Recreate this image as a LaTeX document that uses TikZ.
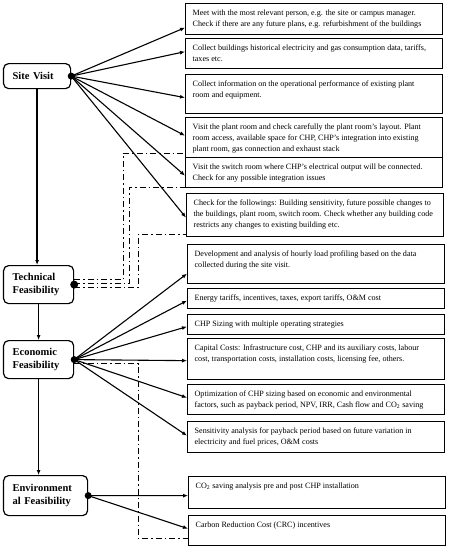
\documentclass[tikz,border=0pt]{standalone}
\usepackage{fontspec}
\setmainfont{Liberation Serif}
\usetikzlibrary{arrows.meta}

\newcommand{\taskfont}{\fontsize{8.1}{11.2}\selectfont}
\newcommand{\phasefont}{\fontsize{10.5}{12.5}\selectfont\bfseries}
\newcommand{\tasktext}[2]{\parbox[c][#1pt][t]{243pt}{\raggedright\vspace*{4pt}\strut#2}}

\tikzset{
  task/.style={draw, line width=1.3pt, anchor=north west, inner xsep=7pt, inner ysep=0pt, font=\taskfont},
  phase/.style={draw, line width=1.2pt, rounded corners=5pt, anchor=north west, inner xsep=9pt, align=left, font=\phasefont},
  flow/.style={line width=1.1pt, -{Latex[length=5pt,width=4pt]}},
  link/.style={line width=1.1pt, dash pattern=on 6pt off 3pt on 1.5pt off 3pt},
  dot/.style={circle, fill, inner sep=0pt, minimum size=7pt},
}

\begin{document}
\begin{tikzpicture}[x=1pt, y=-1pt]
    \useasboundingbox (0,0) rectangle (449,550);

    % Stages on the left
    \node[phase, minimum width=67pt, minimum height=25pt, text width=49pt] (sv) at (3,63) {Site Visit};
    \node[phase, minimum width=70pt, minimum height=38pt, text width=52pt] (tf) at (3,265) {Technical\\Feasibility};
    \node[phase, minimum width=70pt, minimum height=38pt, text width=52pt] (ec) at (3,340) {Economic\\Feasibility};
    \node[phase, minimum width=84pt, minimum height=40pt, text width=66pt] (ef) at (3,475) {Environment\\al Feasibility};

    \draw[flow, line width=1.4pt] (sv.south) -- (sv.south |- tf.north);
    \draw[flow, line width=1.4pt] (tf.south) -- (tf.south |- ec.north);
    \draw[flow, line width=1.4pt] (ec.south) -- (ec.south |- ef.north);

    % Site visit tasks
    \node[task] (b1) at (185,3) {\tasktext{31}{Meet with the most relevant person, e.g. the site or campus manager.\\Check if there are any future plans, e.g. refurbishment of the buildings}};
    \node[task] (b2) at (185,38) {\tasktext{30}{Collect buildings historical electricity and gas consumption data, tariffs,\\taxes etc.}};
    \node[task] (b3) at (185,74) {\tasktext{39}{Collect information on the operational performance of existing plant\\room and equipment.}};
    \node[task] (b4) at (185,117) {\tasktext{40}{Visit the plant room and check carefully the plant room's layout. Plant\\room access, available space for CHP, CHP's integration into existing\\plant room, gas connection and exhaust stack}};
    \node[task] (b5) at (185,157) {\tasktext{30}{Visit the switch room where CHP's electrical output will be connected.\\Check for any possible integration issues}};
    \node[task] (b6) at (186,193) {\tasktext{43}{Check for the followings: Building sensitivity, future possible changes to\\the buildings, plant room, switch room. Check whether any building code\\restricts any changes to existing building etc.}};

    % Economic tasks
    \node[task] (b7) at (187,244) {\tasktext{39}{Development and analysis of hourly load profiling based on the data\\collected during the site visit.}};
    \node[task] (b8) at (187,288) {\tasktext{20}{Energy tariffs, incentives, taxes, export tariffs, O\&M cost}};
    \node[task] (b9) at (187,314) {\tasktext{20}{CHP Sizing with multiple operating strategies}};
    \node[task] (b10) at (187,338) {\tasktext{41}{Capital Costs: Infrastructure cost, CHP and its auxiliary costs, labour\\cost, transportation costs, installation costs, licensing fee, others.}};
    \node[task] (b11) at (187,384) {\tasktext{30}{Optimization of CHP sizing based on economic and environmental\\factors, such as payback period, NPV, IRR, Cash flow and CO\textsubscript{2} saving}};
    \node[task] (b12) at (187,421) {\tasktext{31}{Sensitivity analysis for payback period based on future variation in\\electricity and fuel prices, O\&M costs}};

    % Environmental tasks
    \node[task] (b13) at (188,476) {\tasktext{32}{CO\textsubscript{2} saving analysis pre and post CHP installation}};
    \node[task] (b14) at (188,515) {\tasktext{30}{Carbon Reduction Cost (CRC) incentives}};

    \node[dot] (svd) at (sv.east) {};
    \node[dot, minimum width=6pt, minimum height=8pt] (tfd) at (tf.east) {};
    \node[dot] (ecd) at (ec.east) {};
    \node[dot] (efd) at (ef.east) {};

    % dash-dot feedback lines
    \draw[link] ([yshift=5pt]tfd.center) -- ++(49,0) |- ([yshift=5pt]b4.south west);
    \draw[link] ([yshift=1pt]tfd.center) -- ++(55,0) |- ([yshift=1pt]b5.south west);
    \draw[link] ([yshift=-3pt]tfd.center) -- ++(64,0) |- ([yshift=3pt]b6.south west);
    \draw[link] ([yshift=-4pt]ecd.center) -- ++(64,0) |- ([yshift=-8pt]b14.west);

    \foreach \b/\s in {b1/-8.5, b2/2, b3/-3.5, b4/2, b5/-3, b6/-2.5}
        \draw[flow] (svd.center) -- ([yshift=\s pt]\b.west);
    \foreach \b/\s in {b7/-9.5, b8/-2, b9/-2, b10/-1.5, b11/2, b12/1.5}
        \draw[flow] (ecd.center) -- ([yshift=\s pt]\b.west);
    \foreach \b/\s in {b13/-3, b14/2}
        \draw[flow] (efd.center) -- ([yshift=\s pt]\b.west);
\end{tikzpicture}
\end{document}
